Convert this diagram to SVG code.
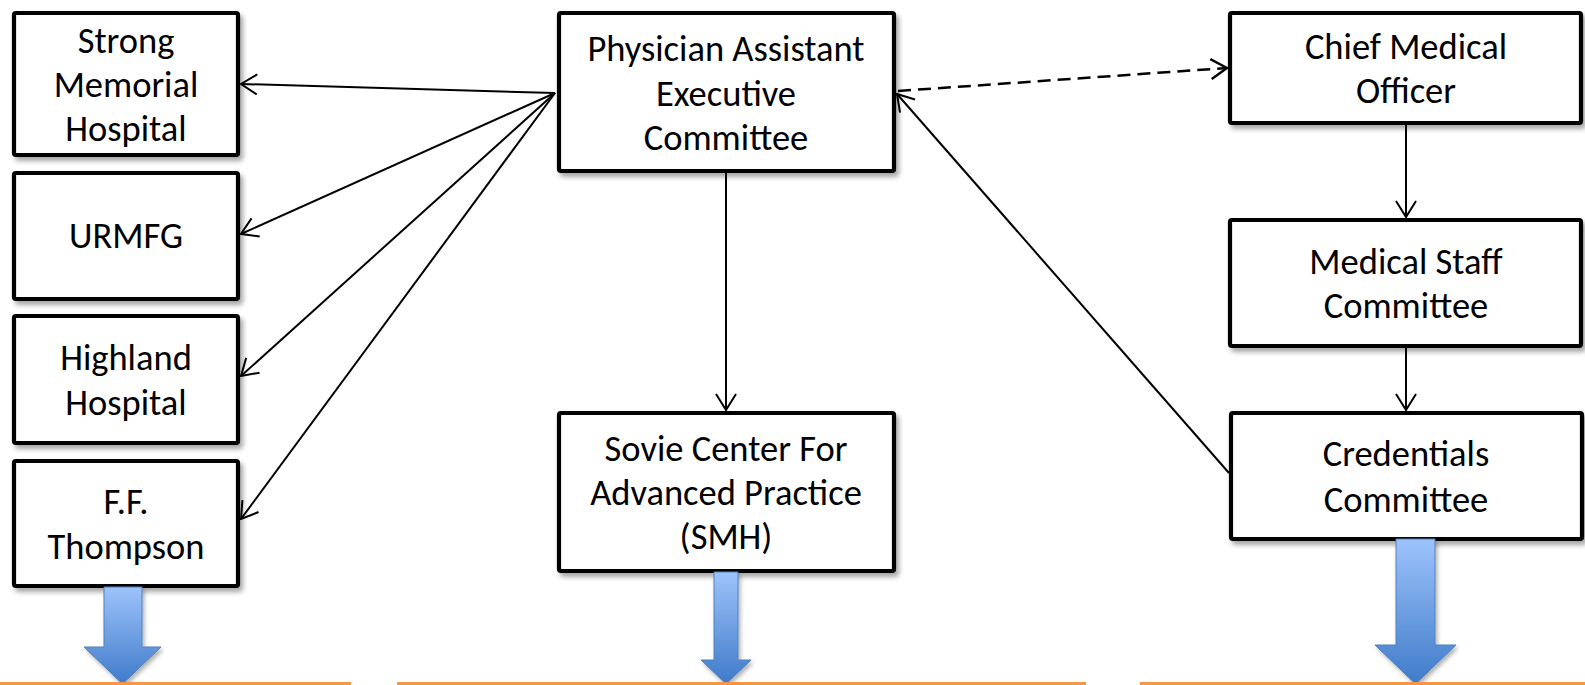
<svg xmlns="http://www.w3.org/2000/svg" width="1585" height="685" viewBox="0 0 1585 685">
<style>
.box{fill:#fff;stroke:#000;stroke-width:4.2;filter:url(#sh)}
.t{font-family:Carlito,"Liberation Sans",Arial,sans-serif;font-size:36.5px;fill:#000;text-anchor:middle}
.c{stroke:#000;stroke-width:2;fill:none;marker-end:url(#ah)}
.d{stroke:#000;stroke-width:2.5;fill:none;stroke-dasharray:13 7;marker-end:url(#ah2)}
.blk{fill:url(#bg);stroke:#4f81bd;stroke-width:1;filter:url(#sh2)}
.or{fill:#f79646}
</style>
<defs>
<filter id="sh" x="-10%" y="-10%" width="125%" height="130%">
<feDropShadow dx="3" dy="4" stdDeviation="2.5" flood-color="#000" flood-opacity="0.35"/>
</filter>
<filter id="sh2" x="-20%" y="-10%" width="150%" height="130%">
<feDropShadow dx="2" dy="3" stdDeviation="2" flood-color="#000" flood-opacity="0.3"/>
</filter>
<linearGradient id="bg" x1="0" y1="0" x2="0" y2="1">
<stop offset="0" stop-color="#9dc3fb"/>
<stop offset="1" stop-color="#3f7bc9"/>
</linearGradient>
<marker id="ah" viewBox="0 0 18 22" markerWidth="18" markerHeight="22" refX="17" refY="11" orient="auto" markerUnits="userSpaceOnUse">
<path d="M1,1 L17,11 L1,21" fill="none" stroke="#000" stroke-width="2"/>
</marker>
<marker id="ah2" viewBox="0 0 18 22" markerWidth="18" markerHeight="22" refX="17" refY="11" orient="auto" markerUnits="userSpaceOnUse">
<path d="M1,1 L17,11 L1,21" fill="none" stroke="#000" stroke-width="2.4"/>
</marker>
</defs>
<g id="connectors">
<line class="c" x1="555" y1="93" x2="241" y2="84"/>
<line class="c" x1="555" y1="93" x2="241" y2="234"/>
<line class="c" x1="555" y1="93" x2="241" y2="376"/>
<line class="c" x1="555" y1="93" x2="241" y2="519"/>
<line class="c" x1="726" y1="173" x2="726" y2="410"/>
<line class="d" x1="898" y1="91" x2="1227" y2="68"/>
<line class="c" x1="1229" y1="473" x2="897" y2="94"/>
<line class="c" x1="1406" y1="125" x2="1406" y2="217"/>
<line class="c" x1="1406" y1="348" x2="1406" y2="410"/>
</g>
<g id="strong-memorial">
<rect class="box" x="14" y="13" width="224" height="142" rx="2"/>
<text class="t" x="126" y="53">Strong</text>
<text class="t" x="126" y="97">Memorial</text>
<text class="t" x="126" y="141">Hospital</text>
</g>
<g id="urmfg">
<rect class="box" x="14" y="173" width="224" height="126" rx="2"/>
<text class="t" x="126" y="248">URMFG</text>
</g>
<g id="highland">
<rect class="box" x="14" y="316" width="224" height="127" rx="2"/>
<text class="t" x="126" y="370">Highland</text>
<text class="t" x="126" y="415">Hospital</text>
</g>
<g id="thompson">
<rect class="box" x="14" y="461" width="224" height="125" rx="2"/>
<text class="t" x="126" y="514">F.F.</text>
<text class="t" x="126" y="559">Thompson</text>
</g>
<g id="pa-exec">
<rect class="box" x="559" y="13" width="335" height="158" rx="2"/>
<text class="t" x="726" y="61">Physician Assistant</text>
<text class="t" x="726" y="106">Executive</text>
<text class="t" x="726" y="150">Committee</text>
</g>
<g id="sovie">
<rect class="box" x="559" y="413" width="335" height="158" rx="2"/>
<text class="t" x="726" y="461">Sovie Center For</text>
<text class="t" x="726" y="505">Advanced Practice</text>
<text class="t" x="726" y="549">(SMH)</text>
</g>
<g id="cmo">
<rect class="box" x="1230" y="13" width="351" height="110" rx="2"/>
<text class="t" x="1406" y="59">Chief Medical</text>
<text class="t" x="1406" y="103">Officer</text>
</g>
<g id="medical-staff">
<rect class="box" x="1230" y="220" width="351" height="126" rx="2"/>
<text class="t" x="1406" y="274">Medical Staff</text>
<text class="t" x="1406" y="318">Committee</text>
</g>
<g id="credentials">
<rect class="box" x="1231" y="413" width="351" height="126" rx="2"/>
<text class="t" x="1406" y="466">Credentials</text>
<text class="t" x="1406" y="512">Committee</text>
</g>
<g id="block-arrows">
<path class="blk" d="M104,587 H142 V647 H161 L122.5,684 L84,647 H104 Z"/>
<path class="blk" d="M714,572 H738 V660 H751 L726,684 L701,660 H714 Z"/>
<path class="blk" d="M1396,539 H1435 V645 H1456 L1415.5,684 L1375,645 H1396 Z"/>
</g>
<g id="bottom-bars">
<rect class="or" x="0" y="682" width="351" height="3"/>
<rect class="or" x="397" y="682" width="689" height="3"/>
<rect class="or" x="1140" y="682" width="445" height="3"/>
</g>
</svg>
